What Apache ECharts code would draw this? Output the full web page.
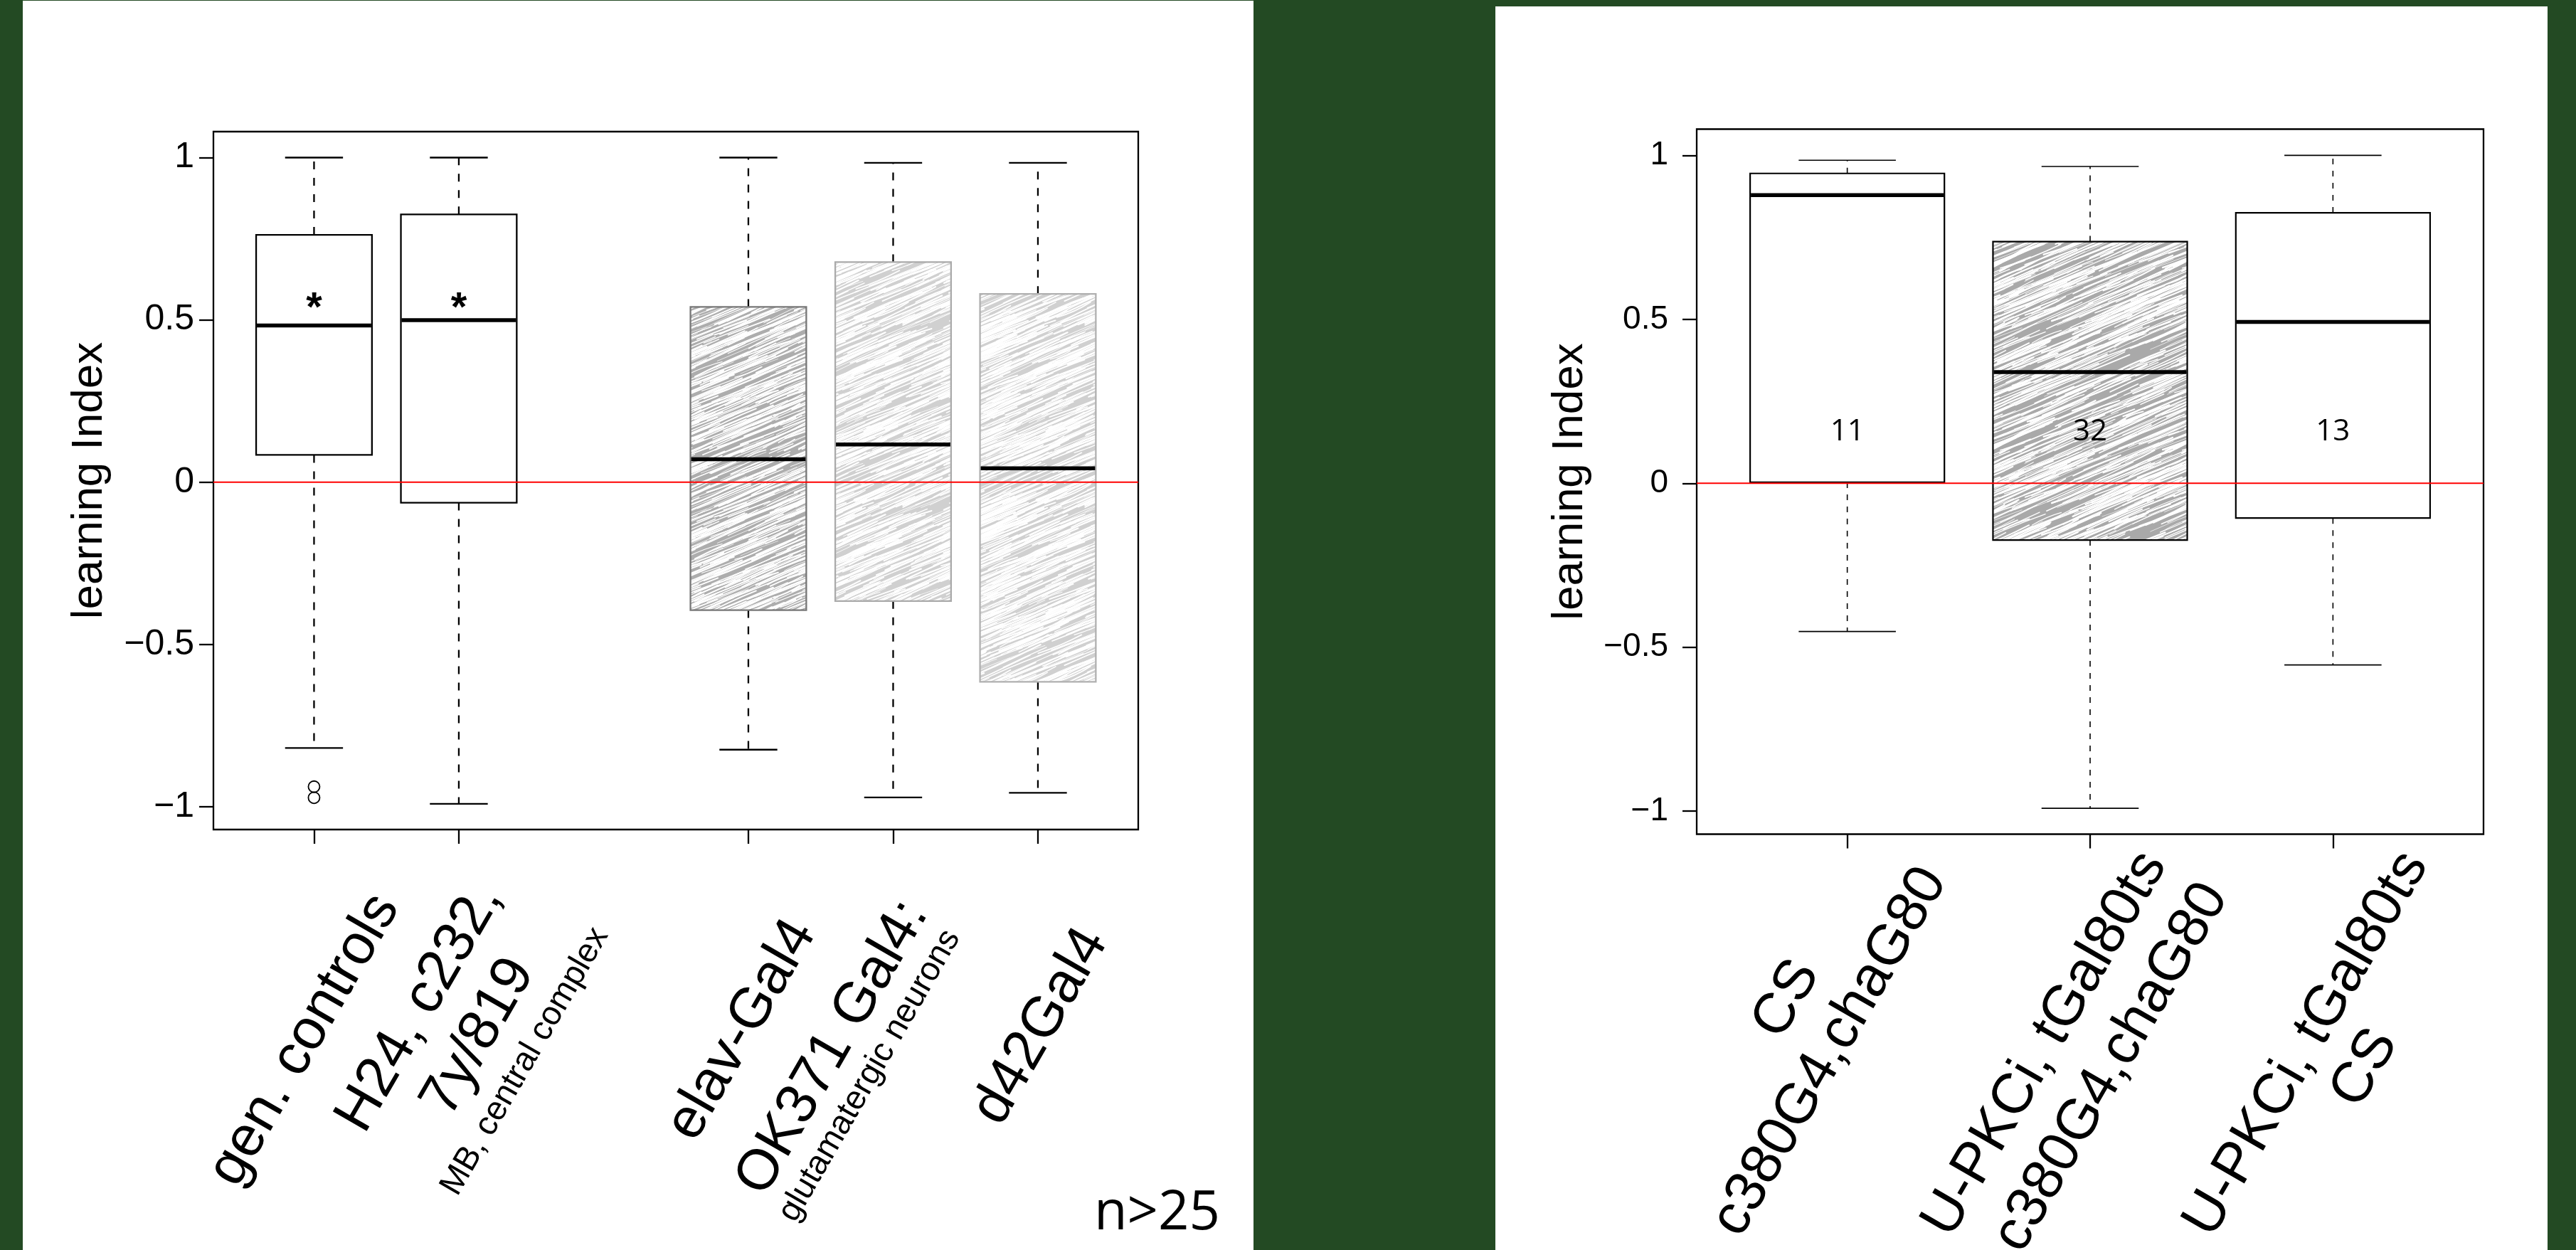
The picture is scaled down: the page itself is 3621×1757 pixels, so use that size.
<!DOCTYPE html>
<html>
<head>
<meta charset="utf-8">
<script src="https://cdn.jsdelivr.net/npm/echarts@6/dist/echarts.min.js"></script>
<style>
  html, body { margin: 0; padding: 0; background: #234a23; }
  #chart { width: 3621px; height: 1757px; }
</style>
</head>
<body>
<div id="chart"></div>
<script>
// ---------------- data: left panel (driver lines) ----------------
const leftCategories = [
  ['gen. controls'],
  ['H24, c232,', '7y/819', 'MB, central complex'],
  ['elav-Gal4'],
  ['OK371 Gal4:', 'glutamatergic neurons'],
  ['d42Gal4']
];
const leftUpper  = [1.000, 1.000, 1.000, 0.984, 0.984];
const leftQ3     = [0.762, 0.825, 0.540, 0.678, 0.580];
const leftMedian = [0.483, 0.499, 0.071, 0.116, 0.043];
const leftQ1     = [0.084, -0.063, -0.394, -0.366, -0.615];
const leftLower  = [-0.819, -0.991, -0.824, -0.971, -0.957];
const leftOutliers = [[-0.938, -0.972], [], [], [], []];
const leftSignificant = [true, true, false, false, false];
const leftNote = 'n>25';

// ---------------- data: right panel (U-PKCi experiment) ----------------
const rightCategories = [
  ['CS', 'c380G4,chaG80'],
  ['U-PKCi, tGal80ts', 'c380G4,chaG80'],
  ['U-PKCi, tGal80ts', 'CS']
];
const rightUpper  = [0.985, 0.966, 1.000];
const rightQ3     = [0.945, 0.737, 0.825];
const rightMedian = [0.879, 0.339, 0.492];
const rightQ1     = [0.003, -0.173, -0.106];
const rightLower  = [-0.452, -0.991, -0.554];
const rightCounts = [11, 32, 13];

// ---------------- axis ticks ----------------
const yTickValues = [-1, -0.5, 0, 0.5, 1];
const yTickLabels = ['\u22121', '\u22120.5', '0', '0.5', '1'];
const yTitle = 'learning Index';

// ---------------- layout / styling ----------------
const Y_RANGE = [-1.07, 1.08];
const LEFT_SLOTS = [1, 2, 4, 5, 6];
const RIGHT_SLOTS = [1, 2, 3];
const LEFT_X_RANGE = [0.305, 6.693];
const RIGHT_X_RANGE = [0.38, 3.62];
const FONT = 'Liberation Sans, Arial, sans-serif';
const NUM_FONT = 'Open Sans, Noto Sans, sans-serif';
const ROT = Math.PI / 3;

// deterministic texture noise (used only for the scribble fill pattern)
function noise(v) {
  const s = Math.sin(v * 12.9898 + 78.233) * 43758.5453;
  return s - Math.floor(s);
}

// hand-drawn looking diagonal scribble fill: grey ground crossed by many thin white strokes
function makeScribble(base, count, seed, minW, maxW) {
  const S = 256;
  const c = document.createElement('canvas');
  c.width = S; c.height = S;
  const g = c.getContext('2d');
  g.fillStyle = base;
  g.fillRect(0, 0, S, S);
  const ang = -23 * Math.PI / 180;
  const ux = Math.cos(ang), uy = Math.sin(ang);
  g.strokeStyle = '#ffffff';
  g.lineCap = 'round';
  for (let k = 0; k < count; k++) {
    const cx = noise(seed + k * 3.17) * S;
    const cy = noise(seed + k * 7.71 + 1.3) * S;
    const len = 30 + noise(seed + k * 1.37 + 2.1) * 110;
    const w = minW + noise(seed + k * 5.93 + 0.7) * (maxW - minW);
    const bend = (noise(seed + k * 2.41 + 4.2) - 0.5) * 8;
    const tilt = (noise(seed + k * 8.13 + 0.4) - 0.5) * 0.08;
    const vx = ux - uy * tilt, vy = uy + ux * tilt;
    g.lineWidth = w;
    for (const ox of [-S, 0, S]) {
      for (const oy of [-S, 0, S]) {
        const x0 = cx + ox - vx * len / 2, y0 = cy + oy - vy * len / 2;
        const x1 = cx + ox + vx * len / 2, y1 = cy + oy + vy * len / 2;
        g.beginPath();
        g.moveTo(x0, y0);
        g.quadraticCurveTo(cx + ox - vy * bend, cy + oy + vx * bend, x1, y1);
        g.stroke();
      }
    }
  }
  return { image: c, repeat: 'repeat' };
}

const scribbleDark = makeScribble('#adadad', 420, 11, 0.6, 2.3);
const scribbleLight = makeScribble('#d0d0d0', 470, 37, 0.6, 2.3);
const scribbleRight = makeScribble('#a9a9a9', 390, 59, 0.6, 2.4);

const leftPanel = {
  slots: LEFT_SLOTS,
  upper: leftUpper, q3: leftQ3, median: leftMedian, q1: leftQ1, lower: leftLower,
  outliers: leftOutliers, significant: leftSignificant,
  fills: ['#ffffff', '#ffffff', scribbleDark, scribbleLight, scribbleLight],
  borders: ['#000000', '#000000', '#777777', '#aaaaaa', '#b0b0b0'],
  boxWidth: 0.8, capWidth: 0.4,
  whiskerWidth: 2.3, whiskerDash: [11, 12], boxLine: 2.3, medianLine: 5.5,
  categories: leftCategories,
  // centre of each label line relative to its tick foot (px)
  labelLayout: [
    [{ size: 80, dx: -13, dy: 296 }],
    [{ size: 80, dx: -55, dy: 251 }, { size: 80, dx: 28, dy: 292 }, { size: 47, dx: 93, dy: 326 }],
    [{ size: 80, dx: -9, dy: 282 }],
    [{ size: 80, dx: -85, dy: 307 }, { size: 47, dx: -33, dy: 346 }],
    [{ size: 80, dx: 4, dy: 277 }]
  ]
};

const rightPanel = {
  slots: RIGHT_SLOTS,
  upper: rightUpper, q3: rightQ3, median: rightMedian, q1: rightQ1, lower: rightLower,
  counts: rightCounts,
  fills: ['#ffffff', scribbleRight, '#ffffff'],
  borders: ['#000000', '#000000', '#000000'],
  boxWidth: 0.8, capWidth: 0.4,
  whiskerWidth: 1.6, whiskerDash: [8, 9], boxLine: 2.2, medianLine: 5.5,
  categories: rightCategories,
  labelLayout: [
    [{ size: 80, dx: -85, dy: 232 }, { size: 80, dx: -24, dy: 306 }],
    [{ size: 80, dx: -63, dy: 295 }, { size: 80, dx: 30, dy: 328 }],
    [{ size: 80, dx: -37, dy: 295 }, { size: 80, dx: 45, dy: 329 }]
  ]
};

function boxSeries(p, idx) {
  return {
    type: 'custom',
    xAxisIndex: idx, yAxisIndex: idx,
    z: 2,
    encode: { x: 0, y: [1, 2, 3, 4, 5] },
    data: p.upper.map((_, i) => [p.slots[i], p.lower[i], p.q1[i], p.median[i], p.q3[i], p.upper[i]]),
    renderItem: function (params, api) {
      const i = params.dataIndex;
      const x = api.value(0);
      const cx = api.coord([x, 0])[0];
      const py = v => api.coord([x, v])[1];
      const yLow = py(api.value(1)), yQ1 = py(api.value(2)), yMed = py(api.value(3));
      const yQ3 = py(api.value(4)), yUp = py(api.value(5));
      const hb = api.size([p.boxWidth, 0])[0] / 2;
      const hc = api.size([p.capWidth, 0])[0] / 2;
      const dashed = { stroke: '#000', lineWidth: p.whiskerWidth, lineDash: p.whiskerDash, fill: null };
      const solid = { stroke: '#000', lineWidth: p.whiskerWidth, fill: null };
      const kids = [
        { type: 'line', shape: { x1: cx, y1: yQ3, x2: cx, y2: yUp }, style: dashed },
        { type: 'line', shape: { x1: cx, y1: yQ1, x2: cx, y2: yLow }, style: dashed },
        { type: 'line', shape: { x1: cx - hc, y1: yUp, x2: cx + hc, y2: yUp }, style: solid },
        { type: 'line', shape: { x1: cx - hc, y1: yLow, x2: cx + hc, y2: yLow }, style: solid },
        { type: 'rect', shape: { x: cx - hb, y: yQ3, width: hb * 2, height: yQ1 - yQ3 },
          style: { fill: p.fills[i], stroke: p.borders[i], lineWidth: p.boxLine } },
        { type: 'line', shape: { x1: cx - hb + 1, y1: yMed, x2: cx + hb - 1, y2: yMed },
          style: { stroke: '#000', lineWidth: p.medianLine } }
      ];
      (p.outliers ? p.outliers[i] : []).forEach(v => {
        kids.push({ type: 'circle', shape: { cx: cx, cy: py(v), r: 8 },
          style: { fill: null, stroke: '#000', lineWidth: 1.8 } });
      });
      if (p.significant && p.significant[i]) {
        kids.push({ type: 'text', x: cx, y: py(0.56) + 13,
          style: { text: '*', fontSize: 58, fontWeight: 'bold', fontFamily: FONT, fill: '#000',
                   align: 'center', verticalAlign: 'middle' } });
      }
      if (p.counts) {
        kids.push({ type: 'text', x: cx, y: py(0.156),
          style: { text: String(p.counts[i]), fontSize: 42, fontFamily: NUM_FONT, fill: '#000',
                   align: 'center', verticalAlign: 'middle' } });
      }
      return { type: 'group', children: kids };
    }
  };
}

function labelSeries(p, idx) {
  return {
    type: 'custom',
    xAxisIndex: idx, yAxisIndex: idx,
    z: 2, silent: true,
    encode: { x: 0 },
    data: p.slots.map(s => [s]),
    renderItem: function (params, api) {
      const i = params.dataIndex;
      const foot = api.coord([api.value(0), Y_RANGE[0]]);
      const lines = p.categories[i];
      const lay = p.labelLayout[i];
      return {
        type: 'group',
        children: lines.map((t, k) => ({
          type: 'text',
          x: foot[0] + lay[k].dx, y: foot[1] + lay[k].dy,
          rotation: ROT,
          style: { text: t, fontSize: lay[k].size, fontFamily: FONT, fill: '#000',
                   align: 'center', verticalAlign: 'middle' }
        }))
      };
    }
  };
}

function zeroLine(xRange, idx) {
  return {
    type: 'custom',
    xAxisIndex: idx, yAxisIndex: idx,
    z: 5, silent: true,
    encode: { x: 0, y: 1 },
    data: [[xRange[0], 0]],
    renderItem: function (params, api) {
      const a = api.coord([xRange[0], 0]);
      const b = api.coord([xRange[1], 0]);
      return { type: 'line', shape: { x1: a[0], y1: a[1], x2: b[0], y2: b[1] },
               style: { stroke: '#ff0000', lineWidth: 2 } };
    }
  };
}

function xAxis(range, slots, idx) {
  return {
    type: 'value', gridIndex: idx, min: range[0], max: range[1],
    axisLine: { show: false, onZero: false },
    splitLine: { show: false },
    axisLabel: { show: false },
    axisTick: { show: true, inside: false, length: 20, customValues: slots,
                lineStyle: { color: '#000', width: 2.3 } }
  };
}

function yAxis(idx, fontSize, margin, gap) {
  return {
    type: 'value', gridIndex: idx, min: Y_RANGE[0], max: Y_RANGE[1],
    axisLine: { show: false, onZero: false },
    splitLine: { show: false },
    axisTick: { show: true, inside: false, length: 20, customValues: yTickValues,
                lineStyle: { color: '#000', width: 2.3 } },
    axisLabel: {
      show: true, customValues: yTickValues, margin: margin,
      fontSize: fontSize, fontFamily: FONT, color: '#000',
      formatter: v => {
        const k = yTickValues.findIndex(t => Math.abs(t - v) < 1e-9);
        return k >= 0 ? yTickLabels[k] : '';
      }
    },
    name: yTitle, nameLocation: 'middle', nameGap: gap,
    nameTextStyle: { fontSize: 62, fontFamily: FONT, color: '#000' }
  };
}

const chart = echarts.init(document.getElementById('chart'), null, { renderer: 'canvas', width: 3621, height: 1757 });

chart.setOption({
  animation: false,
  backgroundColor: '#234a23',
  graphic: [
    { type: 'rect', z: -10, shape: { x: 32, y: 1, width: 1730, height: 1756 }, style: { fill: '#ffffff' } },
    { type: 'rect', z: -10, shape: { x: 2102, y: 9, width: 1479, height: 1748 }, style: { fill: '#ffffff' } },
    { type: 'text', z: 10, left: 1538, top: 1668,
      style: { text: leftNote, fontSize: 76, fontFamily: NUM_FONT, fill: '#000' } }
  ],
  grid: [
    { left: 300, top: 185, width: 1300, height: 981, show: true, borderColor: '#000', borderWidth: 2.3,
      backgroundColor: 'transparent', containLabel: false },
    { left: 2385, top: 181.5, width: 1106, height: 991, show: true, borderColor: '#000', borderWidth: 2.3,
      backgroundColor: 'transparent', containLabel: false }
  ],
  xAxis: [xAxis(LEFT_X_RANGE, LEFT_SLOTS, 0), xAxis(RIGHT_X_RANGE, RIGHT_SLOTS, 1)],
  yAxis: [yAxis(0, 50, 27, 143), yAxis(1, 46, 40, 147)],
  series: [
    boxSeries(leftPanel, 0),
    labelSeries(leftPanel, 0),
    zeroLine(LEFT_X_RANGE, 0),
    boxSeries(rightPanel, 1),
    labelSeries(rightPanel, 1),
    zeroLine(RIGHT_X_RANGE, 1)
  ]
});
</script>
</body>
</html>
